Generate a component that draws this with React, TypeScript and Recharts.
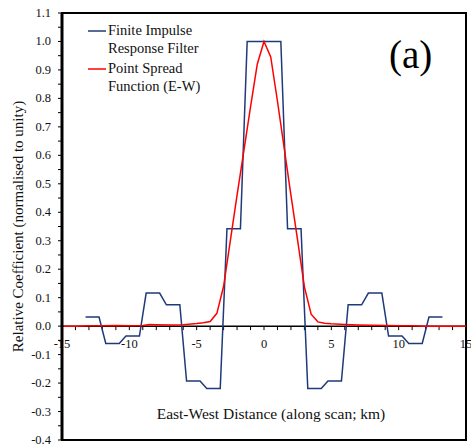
import { LineChart, Line, XAxis, YAxis, ReferenceLine, ReferenceArea, Legend } from "recharts";

const serif = "'Liberation Serif', 'Times New Roman', serif";
const firColor = "#1f3a7a";
const psfColor = "#ff0000";

// finite impulse response filter (step shaped)
const firX = [
  -13.25, -12.25, -11.75, -10.75, -10.25, -9.25, -8.75, -7.75, -7.25, -6.25, -5.75, -4.75,
  -4.25, -3.25, -2.75, -1.75, -1.25, 1.25, 1.75, 2.75, 3.25, 4.25, 4.75, 5.75, 6.25, 7.25,
  7.75, 8.75, 9.25, 10.25, 10.75, 11.75, 12.25, 13.25,
];
const firY = [
  0.032, 0.032, -0.061, -0.061, -0.035, -0.035, 0.116, 0.116, 0.075, 0.075, -0.193, -0.193,
  -0.219, -0.219, 0.342, 0.342, 1.0, 1.0, 0.342, 0.342, -0.219, -0.219, -0.193, -0.193, 0.075, 0.075,
  0.116, 0.116, -0.035, -0.035, -0.061, -0.061, 0.032, 0.032,
];

// point spread function (E-W)
const psfX = [
  -15, -14, -13, -12, -11, -10, -9, -8.5, -8, -7, -6, -5, -4.5, -4, -3.5, -3, -2.5, -2, -1.5, -1,
  -0.5, 0, 0.5, 1, 1.5, 2, 2.5, 3, 3.5, 4, 4.5, 5, 6, 7, 8, 9, 10, 11, 12, 13, 14, 15,
];
const psfY = [
  0, 0, 0.001, 0.001, 0.002, 0.001, 0.002, 0.006, 0.005, 0.004, 0.005, 0.009, 0.012, 0.016, 0.045,
  0.14, 0.3, 0.46, 0.615, 0.77, 0.92, 1.0, 0.946, 0.79, 0.625, 0.46, 0.3, 0.138, 0.042, 0.015, 0.01,
  0.008, 0.006, 0.004, 0.003, 0.002, 0.001, 0.001, 0, 0, 0, 0,
];

const xDomain = [-15, 15];
const xTicks = [-15, -10, -5, 0, 5, 10, 15];
const xMinorTicks = [
  -15, -14, -13, -12, -11, -10, -9, -8, -7, -6, -5, -4, -3, -2, -1, 0, 1, 2, 3, 4, 5, 6, 7, 8, 9,
  10, 11, 12, 13, 14, 15,
];
const yDomain = [-0.4, 1.1];
const yTicks = [
  -0.4, -0.35, -0.3, -0.25, -0.2, -0.15, -0.1, -0.05, 0, 0.05, 0.1, 0.15, 0.2, 0.25, 0.3, 0.35, 0.4,
  0.45, 0.5, 0.55, 0.6, 0.65, 0.7, 0.75, 0.8, 0.85, 0.9, 0.95, 1.0, 1.05, 1.1,
];

const firData = firX.map((x, i) => ({ x, y: firY[i] }));
const psfData = psfX.map((x, i) => ({ x, y: psfY[i] }));

const legendColors: Record<string, string> = {
  "Finite Impulse Response Filter": firColor,
  "Point Spread Function (E-W)": psfColor,
};

function isMajor(v: number) {
  return Math.abs(v * 10 - Math.round(v * 10)) < 1e-6;
}

function YTick({ x, y, payload }: any) {
  const v = Number(payload.value);
  if (!isMajor(v)) return <g />;
  return (
    <text x={x} y={y} dy={4} textAnchor="end" fontSize={12.5} style={{ fontFamily: serif }} fill="#111">
      {v.toFixed(1)}
    </text>
  );
}

// x axis drawn along y = 0
function ZeroAxis(props: any) {
  const { x1, x2, y1 } = props;
  const px = (v: number) => x1 + ((v - xDomain[0]) / (xDomain[1] - xDomain[0])) * (x2 - x1);
  return (
    <g>
      <line x1={x1} x2={x2} y1={y1} y2={y1} stroke="#000" strokeWidth={1.5} />
      {xMinorTicks.map((v) => (
        <line key={"t" + v} x1={px(v)} x2={px(v)} y1={y1} y2={y1 + 4} stroke="#000" strokeWidth={1} />
      ))}
      {xTicks.map((v) => (
        <text key={"l" + v} x={px(v)} y={y1 + 22} textAnchor="middle" fontSize={12.5} style={{ fontFamily: serif }} fill="#111">
          {v}
        </text>
      ))}
    </g>
  );
}

function LegendBox({ payload }: any) {
  return (
    <div style={{ fontFamily: serif, fontSize: 14.5, color: "#111" }}>
      {(payload || []).map((entry: any) => (
        <div key={entry.value} style={{ display: "flex", alignItems: "flex-start", marginBottom: 3 }}>
          <svg width={20} height={18} style={{ flex: "none" }}>
            <line x1={0} x2={18} y1={9} y2={9} stroke={legendColors[entry.value] || entry.color} strokeWidth={1.5} />
          </svg>
          <span style={{ width: 110, lineHeight: "17.5px" }}>{entry.value}</span>
        </div>
      ))}
    </div>
  );
}

export default function App() {
  return (
    <div style={{ position: "absolute", left: 0, top: 0, width: 471, height: 446, background: "#fff" }}>
      <LineChart width={471} height={446} margin={{ top: 13, right: 5, bottom: 6, left: 0 }}>
        <XAxis
          type="number"
          dataKey="x"
          domain={xDomain}
          allowDataOverflow
          height={0}
          tick={false}
          tickLine={false}
          axisLine={false}
        />
        <YAxis
          type="number"
          domain={yDomain}
          ticks={yTicks}
          interval={0}
          allowDataOverflow
          width={62}
          tickSize={4}
          tickMargin={7}
          tick={<YTick />}
          tickLine={{ stroke: "#000" }}
          axisLine={{ stroke: "#000", strokeWidth: 3 }}
          label={{
            value: "Relative Coefficient (normalised to unity)",
            angle: -90,
            position: "insideLeft",
            offset: 18,
            style: { textAnchor: "middle", fontSize: 15, fontFamily: serif, fill: "#111" },
          }}
        />
        <ReferenceArea
          x1={xDomain[0]}
          x2={xDomain[1]}
          y1={yDomain[0]}
          y2={yDomain[1]}
          fill="none"
          fillOpacity={0}
          stroke="#000"
          strokeWidth={2}
          ifOverflow="visible"
          label={{
            value: "East-West Distance (along scan; km)",
            position: "insideBottom",
            offset: 21,
            dx: 7,
            style: { fontSize: 15.5, fontFamily: serif, fill: "#111" },
          }}
        />
        <ReferenceLine y={0} shape={ZeroAxis} />
        <Legend
          layout="horizontal"
          verticalAlign="middle"
          align="center"
          content={<LegendBox />}
          wrapperStyle={{ top: 22, left: 88, width: 150 }}
        />
        <Line
          data={firData}
          dataKey="y"
          name="Finite Impulse Response Filter"
          type="linear"
          stroke={firColor}
          strokeWidth={1.5}
          dot={false}
          isAnimationActive={false}
        />
        <Line
          data={psfData}
          dataKey="y"
          name="Point Spread Function (E-W)"
          type="linear"
          stroke={psfColor}
          strokeWidth={1.5}
          dot={false}
          isAnimationActive={false}
        />
      </LineChart>
      <div
        style={{
          position: "absolute",
          left: 389,
          top: 35,
          fontFamily: serif,
          fontSize: 39,
          lineHeight: 1,
          color: "#000",
        }}
      >
        (a)
      </div>
    </div>
  );
}
